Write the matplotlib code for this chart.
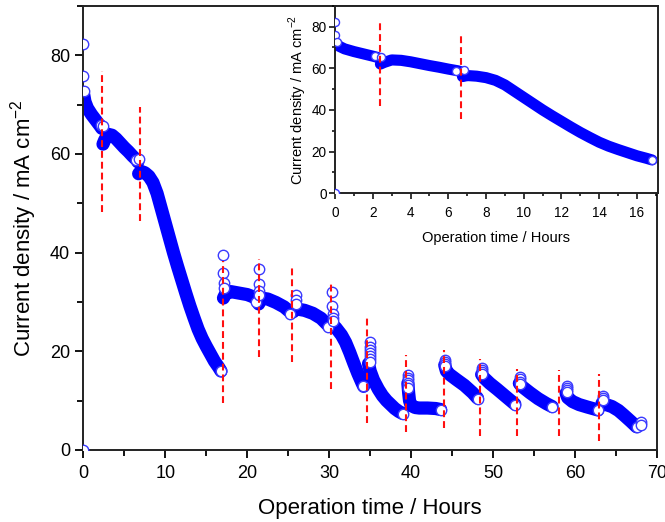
import matplotlib
matplotlib.use("Agg")
import matplotlib.pyplot as plt
from matplotlib.ticker import MultipleLocator

plt.rcParams['font.family'] = ['Liberation Sans', 'DejaVu Sans']

# current density (mA cm-2) vs operation time (h), one list per run between interruptions
seg_time = [
    [0.05, 0.2, 0.5, 1.0, 1.5, 2.0, 2.25],
    [2.4, 2.6, 3.0, 3.5, 4.0, 4.5, 5.0, 5.5, 6.0, 6.5, 6.65],
    [6.75, 7.0, 7.5, 8.0, 8.5, 9.0, 9.5, 10.0, 10.5, 11.0, 11.5, 12.0, 12.5,
     13.0, 13.5, 14.0, 14.5, 15.0, 15.5, 16.0, 16.5, 16.8],
    [17.1, 17.4, 18.0, 19.0, 20.0, 20.8, 21.2],
    [21.4, 21.7, 22.5, 23.5, 24.5, 25.2],
    [25.6, 26.0, 27.0, 28.0, 29.0, 29.9],
    [30.3, 30.8, 31.5, 32.0, 32.5, 33.0, 33.5, 34.0, 34.2],
    [34.8, 35.0, 35.4, 36.0, 36.5, 37.0, 37.5, 38.0, 38.5, 38.95],
    [39.6, 39.7, 39.8, 40.0, 40.5, 41.0, 42.0, 43.0, 43.6],
    [44.1, 44.3, 44.7, 45.5, 46.5, 47.5, 48.1],
    [48.6, 48.9, 49.6, 50.5, 51.5, 52.65],
    [53.2, 53.5, 54.5, 55.5, 56.5, 57.2],
    [58.9, 59.1, 59.7, 60.5, 61.5, 62.8],
    [63.3, 63.6, 64.5, 65.3, 66.0, 66.8, 67.5, 68.0],
]
seg_current = [
    [72.0, 70.6, 69.3, 68.0, 66.9, 65.8, 65.2],
    [62.0, 62.8, 64.0, 63.8, 63.1, 62.2, 61.3, 60.5, 59.6, 58.8, 58.4],
    [56.0, 56.5, 56.2, 55.5, 54.2, 52.0, 49.0, 46.0, 43.0, 40.0, 37.2, 34.5,
     31.8, 29.2, 26.8, 24.5, 22.6, 21.0, 19.5, 18.0, 16.8, 16.0],
    [30.8, 31.8, 32.1, 31.8, 31.5, 31.0, 30.4],
    [29.6, 30.8, 30.6, 29.9, 29.0, 28.0],
    [28.0, 28.6, 28.3, 27.7, 26.7, 25.2],
    [25.5, 24.8, 23.3, 21.8, 19.8, 17.6, 15.5, 13.6, 12.9],
    [17.5, 16.0, 14.2, 12.3, 11.0, 10.0, 9.2, 8.4, 7.8, 7.4],
    [13.5, 11.5, 10.0, 9.0, 8.6, 8.5, 8.5, 8.4, 8.2],
    [17.2, 16.0, 15.3, 14.3, 13.1, 11.6, 10.5],
    [15.3, 14.6, 13.5, 12.3, 10.9, 9.3],
    [13.5, 12.9, 11.6, 10.4, 9.4, 8.8],
    [11.5, 10.6, 9.8, 9.2, 8.7, 8.1],
    [9.5, 9.3, 8.8, 8.0, 7.0, 5.8, 4.7, 5.2],
]

# single points standing out of the band (restart spikes and run ends)
spike_time = [0.0, 0.0, 0.08, 0.0, 2.1, 2.45, 6.4, 6.85, 16.8,
              17.1, 17.1, 17.15, 17.2, 21.1,
              21.4, 21.4, 21.45, 21.45, 25.2,
              25.9, 25.9, 25.9, 29.9,
              30.4, 30.4, 30.45, 30.5, 30.5, 34.1,
              35.0, 35.0, 35.0, 35.0, 35.0, 35.0, 35.0, 38.95,
              39.6, 39.6, 39.6, 39.6, 39.6, 39.6, 43.6,
              44.1, 44.1, 44.1, 44.1, 48.1,
              48.65, 48.65, 48.65, 48.65, 52.65,
              53.25, 53.25, 53.25, 53.25, 57.2,
              59.0, 59.0, 59.0, 59.0, 62.8,
              63.4, 63.4, 63.4, 67.5, 68.1, 68.1]
spike_current = [82.3, 75.8, 72.8, 0.0, 65.8, 65.6, 58.8, 59.0, 16.0,
                 39.5, 35.8, 33.8, 32.8, 30.0,
                 36.7, 33.6, 32.3, 31.5, 27.6,
                 31.5, 30.3, 29.5, 24.9,
                 32.1, 29.1, 27.6, 26.8, 26.2, 13.0,
                 21.8, 20.8, 20.2, 19.6, 19.0, 18.4, 17.8, 7.3,
                 15.2, 14.6, 14.1, 13.6, 13.1, 12.6, 8.2,
                 18.3, 17.9, 17.5, 17.1, 10.4,
                 16.6, 16.2, 15.8, 15.4, 9.2,
                 14.8, 14.3, 13.8, 13.3, 8.8,
                 12.9, 12.5, 12.1, 11.7, 8.1,
                 10.9, 10.5, 10.1, 4.6, 5.6, 5.0]

# red dashed markers at the interruptions
cut_time = [2.3, 6.9, 17.1, 21.4, 25.5, 30.2, 34.6, 39.35, 44.0, 48.4, 52.9, 58.0, 62.9]
cut_low = [48.3, 46.5, 9.5, 18.9, 17.8, 12.3, 5.4, 3.6, 4.4, 2.9, 2.9, 2.8, 1.8]
cut_high = [76.9, 69.5, 38.4, 38.8, 37.4, 34.3, 27.1, 19.3, 20.2, 18.5, 16.4, 16.2, 15.3]

inset_cut_time = [2.38, 6.67]
inset_cut_low = [41.9, 35.5]
inset_cut_high = [82.0, 75.5]

band_color = '#0000ff'
ring_color = '#3a3aff'


def draw(ax, tmax, lw, ms, dash_lo, dash_hi, dash_t):
    for t, j in zip(seg_time, seg_current):
        if t[0] > tmax:
            continue
        ax.plot(t, j, color=band_color, lw=lw, solid_capstyle='round',
                solid_joinstyle='round', zorder=2)
    pts = [(t, j) for t, j in zip(spike_time, spike_current) if t <= tmax]
    ax.plot([p[0] for p in pts], [p[1] for p in pts], 'o', ls='none', ms=ms,
            mfc='white', mec=ring_color, mew=1.0, zorder=3)
    ax.vlines(dash_t, dash_lo, dash_hi, colors='#ff1010', lw=1.5,
              linestyles=(0, (3.3, 1.9)), zorder=4)
    ax.set_ylim(0, 90)
    ax.yaxis.set_major_locator(MultipleLocator(20))
    ax.yaxis.set_minor_locator(MultipleLocator(10))
    for s in ax.spines.values():
        s.set_linewidth(1.4)
        s.set_color('#222222')


fig = plt.figure(figsize=(6.65, 5.22), dpi=100)

ax = fig.add_axes([0.1253, 0.138, 0.8627, 0.8505])
draw(ax, 70, 9.5, 7.5, cut_low, cut_high, cut_time)
ax.set_xlim(0, 70)
ax.xaxis.set_major_locator(MultipleLocator(10))
ax.xaxis.set_minor_locator(MultipleLocator(5))
ax.tick_params(which='major', direction='out', length=6, width=1.3, labelsize=13)
ax.tick_params(axis='x', which='major', pad=5)
ax.tick_params(which='minor', direction='out', length=4, width=1.3)
ax.set_xlabel('Operation time / Hours', fontsize=16, labelpad=11)
ax.set_ylabel(r'Current density / mA cm$^{\mathregular{-2}}$', fontsize=16, labelpad=8)

ins = fig.add_axes([0.504, 0.6297, 0.485, 0.3593])
draw(ins, 17, 8, 5.8, inset_cut_low, inset_cut_high, inset_cut_time)
ins.set_xlim(0, 17.1)
ins.xaxis.set_major_locator(MultipleLocator(2))
ins.xaxis.set_minor_locator(MultipleLocator(1))
ins.tick_params(which='major', direction='out', length=4, width=1.1, labelsize=9.8, pad=2)
ins.tick_params(axis='x', which='major', pad=5)
ins.tick_params(which='minor', direction='out', length=2.5, width=1.1)
ins.set_xlabel('Operation time / Hours', fontsize=10.5, labelpad=8)
ins.set_ylabel(r'Current density / mA cm$^{\mathregular{-2}}$', fontsize=10.5, labelpad=2)

fig.savefig('out.png', dpi=100)
